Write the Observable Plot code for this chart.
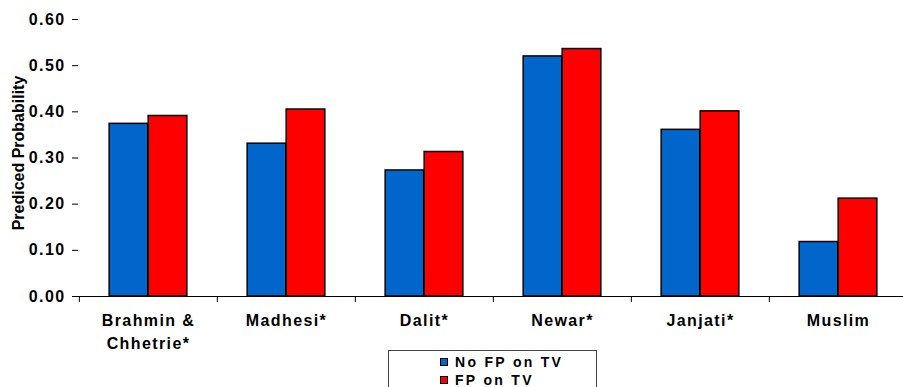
<!DOCTYPE html>
<html>
<head>
<meta charset="utf-8">
<script src="https://cdn.jsdelivr.net/npm/d3@7"></script>
<script src="https://cdn.jsdelivr.net/npm/@observablehq/plot@0.6"></script>
<style>
  html, body { margin: 0; padding: 0; background: #fff; }
  #wrap { position: relative; width: 903px; height: 387px; }
  #chart svg { display: block; }
  .ytick text { letter-spacing: 1.4px; }
  .xlab text { letter-spacing: 1.4px; }
  .legend {
    position: absolute; left: 388px; top: 350px; width: 209px; height: 40px;
    border: 1px solid #444; border-bottom: none; box-sizing: border-box; background: #fff;
    font-family: "Liberation Sans", Arial, sans-serif; font-weight: bold;
    font-size: 14px; letter-spacing: 2.3px; padding-top: 2px;
  }
  .legend .item { display: flex; align-items: center; height: 18px; padding-left: 51px; }
  .legend .sw { width: 6px; height: 6px; border: 1px solid #000; margin-right: 7px; }
</style>
</head>
<body>
<div id="wrap">
<div id="chart"></div>
<div class="legend" id="legend"></div>
</div>
<script>
const groups = ["Brahmin & Chhetrie*", "Madhesi*", "Dalit*", "Newar*", "Janjati*", "Muslim"];
const groupLabels = ["Brahmin &\nChhetrie*", "Madhesi*", "Dalit*", "Newar*", "Janjati*", "Muslim"];
const seriesNames = ["No FP on TV", "FP on TV"];
const seriesColors = ["#0066CC", "#FF0000"];
const noFP = [0.374, 0.331, 0.273, 0.520, 0.361, 0.118];
const fpTV = [0.391, 0.405, 0.313, 0.536, 0.401, 0.212];
const yTicks = [0, 0.1, 0.2, 0.3, 0.4, 0.5, 0.6];
const yLabel = "Prediced Probability";

const rowsNo = groups.map((g, i) => ({group: g, series: seriesNames[0], value: noFP[i]}));
const rowsFP = groups.map((g, i) => ({group: g, series: seriesNames[1], value: fpTV[i]}));

const W = 903, H = 387, ML = 78, XR = [78, 908];
const bw = (XR[1] - XR[0]) / groups.length;
const barW = bw * 0.282;
const font = "'Liberation Sans', Arial, sans-serif";

const chart = Plot.plot({
  width: W, height: H,
  marginLeft: ML, marginRight: 0, marginTop: 19, marginBottom: 91,
  style: {fontFamily: font, background: "#fff", color: "#000"},
  x: {domain: groups, range: XR, padding: 0, axis: null},
  y: {domain: [0, 0.6], axis: null},
  marks: [
    Plot.barY(rowsNo, {x: "group", y: "value", fill: seriesColors[0], stroke: "#000", strokeWidth: 1.5,
      insetLeft: bw / 2 - barW, insetRight: bw / 2}),
    Plot.barY(rowsFP, {x: "group", y: "value", fill: seriesColors[1], stroke: "#000", strokeWidth: 1.5,
      insetLeft: bw / 2, insetRight: bw / 2 - barW}),
    Plot.ruleY([0], {stroke: "#000", strokeWidth: 1.2}),
    Plot.axisY({ticks: yTicks, tickFormat: d3.format(".2f"), tickSize: 6, tickPadding: 7,
      line: true, stroke: "#000", fontSize: 16, fontWeight: "bold", label: null, className: "ytick"}),
    Plot.text([yLabel], {frameAnchor: "left", textAnchor: "middle", rotate: -90, dx: -60, dy: -5,
      fontSize: 16, fontWeight: "bold", fill: "#000"}),
    Plot.axisX({tickSize: 6, tickFormat: () => "", dx: -bw / 2, label: null, stroke: "#000"}),
    Plot.axisX({tickSize: 0, tickPadding: 14, label: null, fontSize: 16, fontWeight: "bold",
      lineHeight: 1.4, className: "xlab",
      tickFormat: d => groupLabels[groups.indexOf(d)]})
  ]
});
document.getElementById("chart").appendChild(chart);

const legend = document.getElementById("legend");
seriesNames.forEach((name, i) => {
  const item = document.createElement("div");
  item.className = "item";
  const sw = document.createElement("span");
  sw.className = "sw";
  sw.style.background = seriesColors[i];
  const t = document.createElement("span");
  t.textContent = name;
  item.appendChild(sw); item.appendChild(t);
  legend.appendChild(item);
});
</script>
</body>
</html>
